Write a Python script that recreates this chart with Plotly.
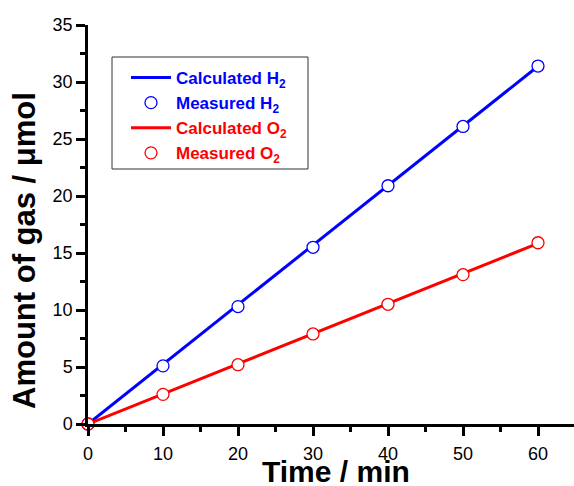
import plotly.graph_objects as go

time_min = [0, 10, 20, 30, 40, 50, 60]
calc_h2 = [0, 5.23, 10.46, 15.69, 20.92, 26.15, 31.38]
meas_h2 = [0, 5.1, 10.3, 15.5, 20.9, 26.1, 31.4]
calc_o2 = [0, 2.64, 5.28, 7.92, 10.56, 13.2, 15.84]
meas_o2 = [0, 2.6, 5.2, 7.9, 10.5, 13.1, 15.9]

BLUE = "#0000FF"
RED = "#FF0000"
FONT = "Liberation Sans, Arial"

def lab(text, color):
    return f'<span style="color:{color}"><b>{text}</b></span>'

fig = go.Figure()
fig.add_trace(go.Scatter(x=time_min, y=calc_h2, mode="lines",
                         line=dict(color=BLUE, width=3),
                         name=lab("Calculated H<sub>2</sub>", BLUE)))
fig.add_trace(go.Scatter(x=time_min, y=meas_h2, mode="markers",
                         marker=dict(symbol="circle", size=12, color="white",
                                     line=dict(color=BLUE, width=1.3)),
                         name=lab("Measured H<sub>2</sub>", BLUE)))
fig.add_trace(go.Scatter(x=time_min, y=calc_o2, mode="lines",
                         line=dict(color=RED, width=3),
                         name=lab("Calculated O<sub>2</sub>", RED)))
fig.add_trace(go.Scatter(x=time_min, y=meas_o2, mode="markers",
                         marker=dict(symbol="circle", size=12, color="white",
                                     line=dict(color=RED, width=1.3)),
                         name=lab("Measured O<sub>2</sub>", RED)))
fig.update_traces(cliponaxis=False)

axis_common = dict(
    showline=True, linecolor="black", linewidth=2.5,
    ticks="outside", ticklen=9, tickwidth=2.5, tickcolor="black",
    showgrid=False, zeroline=False, mirror=False, automargin=False,
    tickfont=dict(family=FONT, size=18, color="black"),
)

fig.update_xaxes(range=[0, 64.8], dtick=10, tick0=0, ticklabelstandoff=3,
                 minor=dict(dtick=5, ticklen=5, tickwidth=2.5, tickcolor="black", ticks="outside"),
                 **axis_common)
fig.update_yaxes(range=[0, 35], dtick=5, tick0=0,
                 minor=dict(dtick=2.5, ticklen=5, tickwidth=2.5, tickcolor="black", ticks="outside"),
                 **axis_common)

L, T, B, W, H = 88, 25, 62, 574, 486
pw, ph = W - L, H - T - B

def px_x(p):
    return (p - L) / pw

def px_y(p):
    return ((H - B) - p) / ph

fig.add_annotation(text="<b>Time / min</b>", xref="paper", yref="paper",
                   x=px_x(336), y=px_y(471),
                   xanchor="center", yanchor="middle", showarrow=False,
                   font=dict(family=FONT, size=30, color="black"))
fig.add_annotation(text="<b>Amount of gas / μmol</b>", xref="paper", yref="paper",
                   x=px_x(24), y=px_y(251), textangle=-90,
                   xanchor="center", yanchor="middle", showarrow=False,
                   font=dict(family=FONT, size=31, color="black"))

# legend frame
fig.add_shape(type="rect", xref="paper", yref="paper",
              x0=px_x(112), x1=px_x(308), y0=px_y(169), y1=px_y(57),
              line=dict(color="#333333", width=1), fillcolor="white", layer="below")

fig.update_layout(
    width=W, height=H,
    margin=dict(l=L, r=0, t=T, b=B, autoexpand=False),
    paper_bgcolor="white", plot_bgcolor="white",
    showlegend=True,
    legend=dict(x=px_x(126), y=px_y(60), xanchor="left", yanchor="top",
                bgcolor="rgba(0,0,0,0)", borderwidth=0,
                font=dict(family=FONT, size=17),
                tracegroupgap=0, itemwidth=40),
)

fig.write_html("out.html", config={"displayModeBar": False},
               post_script="document.body.style.margin='0';document.body.style.overflow='hidden';")
